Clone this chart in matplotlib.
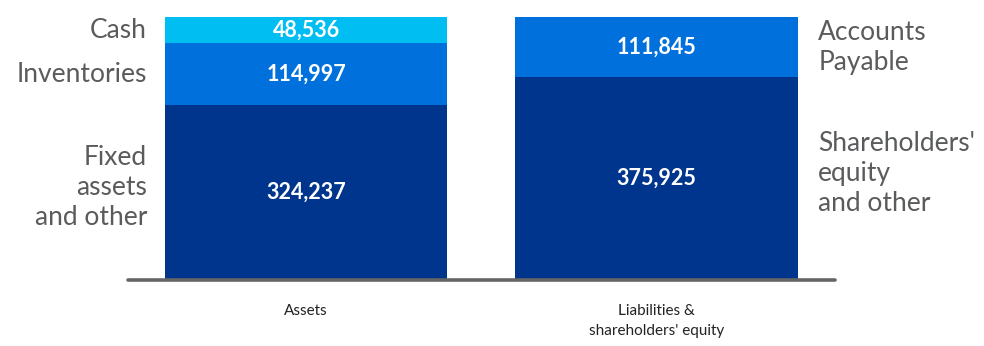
import matplotlib
matplotlib.use("Agg")
import matplotlib.pyplot as plt

plt.rcParams.update({"font.family": ["Lato", "DejaVu Sans"]})

# ---------------------------------------------------------------- data
categories = ["Assets", "Liabilities &\nshareholders' equity"]
assets_labels = ["Fixed\nassets\nand other", "Inventories", "Cash"]
assets_values = [324237, 114997, 48536]
liab_labels = ["Shareholders'\nequity\nand other", "Accounts\nPayable"]
liab_values = [375925, 111845]

NAVY = "#00358e"; BLUE = "#0071dc"; CYAN = "#00bdf2"
LABEL = "#5a5b5d"; INK = "#222222"; AXIS = "#666666"
assets_colors = [NAVY, BLUE, CYAN]
liab_colors = [NAVY, BLUE]

fig = plt.figure(figsize=(9.84, 3.46), dpi=100)
ax = fig.add_axes([128 / 984, 66 / 346, 707 / 984, 263 / 346])
W = 0.806


def stack(x, values, colors):
    bottom = 0
    mids = []
    for v, c in zip(values, colors):
        ax.bar([x], [v], bottom=bottom, width=W, color=c, edgecolor="none", zorder=2)
        mid = bottom + v / 2
        ax.text(x, mid, f"{v:,}", ha="center", va="center", color="white",
                fontsize=15.5, fontweight="bold", zorder=3)
        mids.append(mid)
        bottom += v
    return mids


a_mids = stack(0, assets_values, assets_colors)
l_mids = stack(1, liab_values, liab_colors)


def side_label(x, y, text, ha, dx, dy):
    ax.annotate(text, (x, y), xytext=(dx, dy), textcoords="offset points",
                ha=ha, va="center", fontsize=19, color=LABEL, linespacing=1.25)


for i, (lab, m) in enumerate(zip(assets_labels, a_mids)):
    side_label(-W / 2, m, lab, "right", -13, 4 if i == 0 else 0)
for i, (lab, m) in enumerate(zip(liab_labels, l_mids)):
    side_label(1 + W / 2, m, lab, "left", 15, 4 if i == 0 else 0)

ax.set_xlim(-0.509, 1.51)
ax.set_ylim(0, sum(assets_values))
ax.set_xticks([0, 1])
ax.set_xticklabels(categories, fontsize=11, color=INK, linespacing=1.6)
ax.tick_params(axis="x", length=0, pad=17)
ax.set_yticks([])
for s in ("top", "right", "left"):
    ax.spines[s].set_visible(False)
ax.spines["bottom"].set_color(AXIS)
ax.spines["bottom"].set_linewidth(2.6)
ax.spines["bottom"].set_capstyle("round")
ax.spines["bottom"].set_zorder(4)

fig.savefig("out.png", dpi=100)
